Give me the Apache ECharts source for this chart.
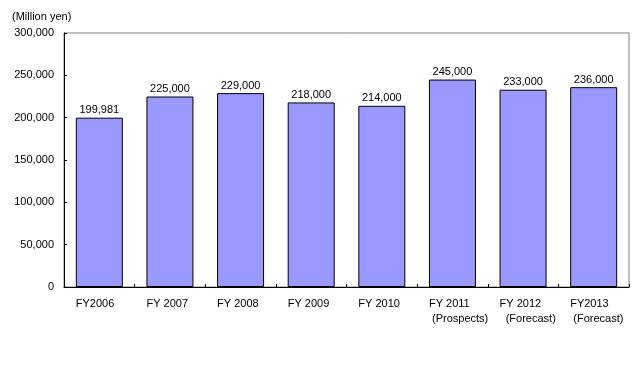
<!DOCTYPE html>
<html><head><meta charset="utf-8">
<script src="https://cdn.jsdelivr.net/npm/echarts@6/dist/echarts.min.js"></script>
<style>html,body{margin:0;padding:0;background:#fff}#c{width:639px;height:380px}</style>
</head><body><div id="c"></div>
<script>
var categories = ['FY2006', 'FY 2007', 'FY 2008', 'FY 2009', 'FY 2010', 'FY 2011', 'FY 2012', 'FY2013'];
var subLabels = ['', '', '', '', '', '(Prospects)', '(Forecast)', '(Forecast)'];
var subIndent = ['', '', '', '', '', ' ', '  ', ' '];
var values = [199981, 225000, 229000, 218000, 214000, 245000, 233000, 236000];
var yTicks = [0, 50000, 100000, 150000, 200000, 250000, 300000];
var unitLabel = '(Million yen)';

var FONT = 'Arial, "Liberation Sans", sans-serif';
function fmt(v){ return String(v).replace(/\B(?=(\d{3})+(?!\d))/g, ','); }
var chart = echarts.init(document.getElementById('c'), null, {renderer:'canvas'});
chart.setOption({
  animation: false,
  title: { text: unitLabel, left: 7, top: 6, textStyle: { fontFamily: FONT, fontSize: 11, fontWeight: 'normal', color: '#000' } },
  grid: { left: 64, top: 33, right: 10, bottom: 93, show: true, borderColor: '#808080', borderWidth: 1, backgroundColor: 'transparent' },
  xAxis: {
    type: 'category', data: categories,
    axisLine: { lineStyle: { color: '#000', width: 1 } },
    axisTick: { show: true, inside: true, length: 3, lineStyle: { color: '#000' } },
    axisLabel: {
      margin: 9, interval: 0,
      formatter: function(v, i){
        var s = '{a|' + v + '}';
        if (subLabels[i]) s += '\n{a|' + subIndent[i] + subLabels[i] + '}';
        return s;
      },
      rich: { a: { width: 47, align: 'left', fontFamily: FONT, fontSize: 11, color: '#000', lineHeight: 15 } }
    }
  },
  yAxis: {
    type: 'value', min: 0, max: 300000, interval: 50000,
    splitLine: { show: false },
    axisLine: { show: true, lineStyle: { color: '#000', width: 1 } },
    axisTick: { show: true, inside: true, length: 3, lineStyle: { color: '#000' } },
    axisLabel: { margin: 10, fontFamily: FONT, fontSize: 11, color: '#000',
      formatter: function(v){ return yTicks.indexOf(v) >= 0 ? fmt(v) : ''; } }
  },
  series: [{
    type: 'bar', data: values, barWidth: 47,
    itemStyle: { color: '#9999FF', borderColor: '#000', borderWidth: 1 },
    label: { show: true, position: 'top', distance: 2, fontFamily: FONT, fontSize: 11, color: '#000',
      formatter: function(p){ return fmt(p.value); } }
  }]
});
</script></body></html>
